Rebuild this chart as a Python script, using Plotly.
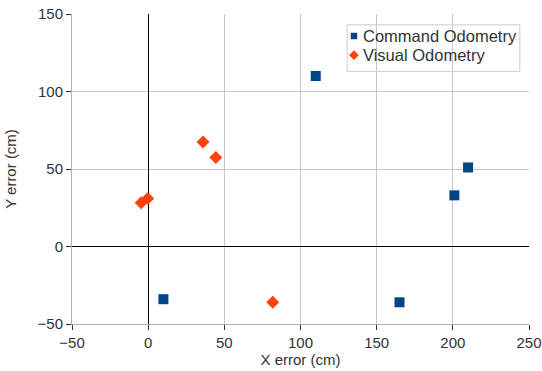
import plotly.graph_objects as go

cmd_x = [10, 110, 165, 201, 210]
cmd_y = [-34, 110, -36, 33, 51]
vis_x = [-4.6, -0.3, 36, 44.4, 81.8]
vis_y = [28.3, 30.9, 67.4, 57.5, -35.9]

x_ticks = [-50, 0, 50, 100, 150, 200, 250]
y_ticks = [-50, 0, 50, 100, 150]

series_names = ["Command Odometry", "Visual Odometry"]

BLUE = "#004586"
ORANGE = "#ff420e"
TXT = "#333333"
font = dict(family="Liberation Sans, Arial, sans-serif", size=14, color=TXT)

W, H = 542, 371
L, R, T, B = 72, 13, 14, 47

fig = go.Figure()
fig.add_trace(go.Scatter(x=cmd_x, y=cmd_y, mode="markers", name=series_names[0],
                         showlegend=False,
                         marker=dict(symbol="square", size=10, color=BLUE)))
fig.add_trace(go.Scatter(x=vis_x, y=vis_y, mode="markers", name=series_names[1],
                         showlegend=False,
                         marker=dict(symbol="diamond", size=10, color=ORANGE)))

# custom legend (box + symbols on a hidden 0..1 overlay axis + text)
lx0, lx1, ly0, ly1 = 0.602, 0.980, 0.815, 0.965
sym_x = 0.617
txt_x = 0.633
rows_y = [0.929, 0.867]
fig.add_shape(type="rect", xref="paper", yref="paper", x0=lx0, x1=lx1, y0=ly0, y1=ly1,
              line=dict(color="#cccccc", width=1), fillcolor="white", layer="between")
fig.add_trace(go.Scatter(x=[sym_x], y=[rows_y[0]], xaxis="x2", yaxis="y2", mode="markers",
                         showlegend=False, hoverinfo="skip",
                         marker=dict(symbol="square", size=6.5, color=BLUE)))
fig.add_trace(go.Scatter(x=[sym_x], y=[rows_y[1]], xaxis="x2", yaxis="y2", mode="markers",
                         showlegend=False, hoverinfo="skip",
                         marker=dict(symbol="diamond", size=7.5, color=ORANGE)))
for name, ry in zip(series_names, rows_y):
    fig.add_annotation(x=txt_x, y=ry, xref="paper", yref="paper", text=name,
                       showarrow=False, xanchor="left", yanchor="middle",
                       font=dict(size=16.5, color=TXT))

fig.update_layout(
    width=W, height=H,
    margin=dict(l=L, r=R, t=T, b=B),
    paper_bgcolor="white", plot_bgcolor="white",
    font=font,
    showlegend=False,
    xaxis=dict(range=[-50, 250], tickvals=x_ticks, showgrid=True, gridcolor="#c8c8c8",
               zeroline=True, zerolinecolor="#000000", zerolinewidth=1,
               showline=True, linecolor="#b0b0b0", ticks="outside", ticklen=5,
               tickcolor=TXT, automargin=False,
               title=dict(text="X error (cm)", standoff=4, font=dict(size=15)),
               tickfont=dict(size=15, color=TXT)),
    yaxis=dict(range=[-50, 150], tickvals=y_ticks, showgrid=True, gridcolor="#c8c8c8",
               zeroline=True, zerolinecolor="#000000", zerolinewidth=1,
               showline=True, linecolor="#b0b0b0", ticks="outside", ticklen=5,
               tickcolor=TXT, automargin=False,
               title=dict(text="Y error (cm)", standoff=17, font=dict(size=15)),
               tickfont=dict(size=15, color=TXT)),
    xaxis2=dict(range=[0, 1], overlaying="x", visible=False, fixedrange=True),
    yaxis2=dict(range=[0, 1], overlaying="y", visible=False, fixedrange=True),
)

fig.write_html("out.html", config={"displayModeBar": False},
               post_script="document.body.style.margin='0';document.body.style.overflow='hidden';")
